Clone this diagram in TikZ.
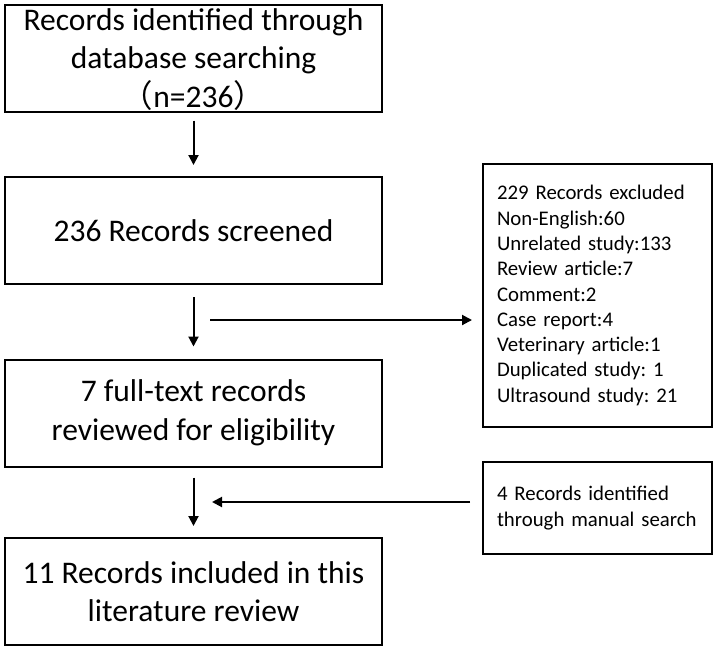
\documentclass[tikz,border=0pt]{standalone}
\usepackage{fontspec}
\setmainfont{Carlito}
\newfontfamily\cjk{Noto Sans CJK SC}
\usetikzlibrary{arrows.meta}
\frenchspacing

\tikzset{
  caja/.style={draw, line width=2pt, minimum width=377pt, minimum height=107pt,
    align=center, inner sep=0pt, font=\fontsize{31.5}{38.5}\selectfont},
  lista/.style={draw, line width=2pt, align=left, text width=201pt,
    inner xsep=14pt, inner ysep=0pt, font=\fontsize{20.8}{25.3}\selectfont},
  flecha/.style={line width=2pt, -{Triangle[length=10pt,width=10pt]}}
}

\begin{document}
\begin{tikzpicture}[x=1pt,y=-1pt]
  \useasboundingbox (0,0) rectangle (717,651);

  % Cajas principales
  \node[caja, text depth=0pt] (busqueda) at (193.5,58) {Records identified through\\database searching\\{\cjk （}n=236{\cjk ）}};
  \node[caja] (cribado) at (193.5,230.5) {236 Records screened};
  \node[caja] (completo) at (193.5,413) {7 full-text records\\reviewed for eligibility};
  \node[caja] (incluidos) at (193.5,591.5) {11 Records included in this\\literature review};

  % Cajas laterales
  \node[lista, minimum height=263pt] (excluidos) at (597.5,295.5) {229 Records excluded\\Non-English:60\\Unrelated study:133\\Review article:7\\Comment:2\\Case report:4\\Veterinary article:1\\Duplicated study: 1\\Ultrasound study: 21};
  \node[lista, minimum height=92pt] (manual) at (597.5,508) {4 Records identified\\through manual search};

  % Flechas verticales
  \draw[flecha, shorten <=8pt, shorten >=11pt] (busqueda) -- (cribado);
  \draw[flecha, shorten <=12pt, shorten >=12pt] (cribado) -- (completo);
  \draw[flecha, shorten <=10pt, shorten >=11pt] (completo) -- (incluidos);

  % Flechas horizontales
  \coordinate (salida) at (210,320);
  \coordinate (entrada) at (212,502);
  \draw[flecha, shorten >=10pt] (salida) -- (salida -| excluidos.west);
  \draw[flecha, shorten <=12pt] (entrada -| manual.west) -- (entrada);
\end{tikzpicture}
\end{document}
